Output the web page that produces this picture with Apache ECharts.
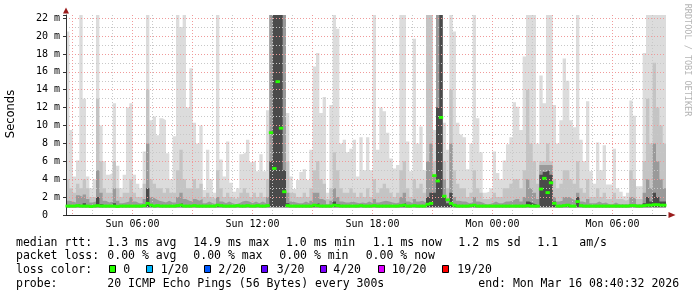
<!DOCTYPE html>
<html><head><meta charset="utf-8">
<script src="https://cdn.jsdelivr.net/npm/echarts@6/dist/echarts.min.js"></script>
<style>html,body{margin:0;padding:0;background:#fff}#c{width:697px;height:297px}</style>
</head><body><div id="c"></div>
<script>
// time: hours since Sun 00:00, bins of 10 minutes starting Sun 02:40:32
const startHour = 2 + 40 / 60 + 32 / 3600;
const stepHours = 10 / 60;
const smokeFloor = 1.0;

// top of the smoke (lightest), in ms
const smokeMax = [
 20.5, 9.5, 4.3, 6.1, 22.35, 13.0, 4.3, 3.0, 4.0, 22.35,
 10.0, 6.0, 4.5, 4.7, 12.5, 5.5, 3.0, 4.5, 12.0, 12.5,
 4.5, 3.5, 3.0, 7.1, 22.35, 10.6, 11.0, 8.9, 10.8, 10.6,
 6.9, 4.0, 8.8, 22.35, 21.0, 22.35, 12.0, 16.4, 10.3, 8.0,
 10.0, 2.8, 7.3, 4.0, 2.5, 22.35, 6.2, 4.3, 8.2, 3.6,
 2.6, 3.0, 6.8, 7.0, 8.4, 5.9, 6.1, 4.9, 6.8, 4.9,
 11.7, 22.35, 22.35, 22.35, 22.35, 22.35, 11.4, 4.3, 2.9, 3.9,
 4.8, 5.1, 3.9, 7.3, 16.6, 18.1, 11.4, 13.2, 2.5, 12.3,
 22.35, 20.8, 8.0, 8.4, 7.0, 7.4, 8.4, 4.3, 8.7, 5.0,
 8.7, 5.0, 22.35, 7.3, 12.0, 11.6, 9.2, 6.3, 5.2, 5.6,
 22.35, 22.35, 8.2, 4.9, 19.7, 8.0, 9.9, 5.0, 22.35, 22.35,
 9.5, 22.35, 22.35, 10.3, 7.3, 22.35, 20.5, 10.3, 9.0, 8.7,
 5.1, 8.0, 22.35, 10.8, 7.0, 2.5, 2.6, 3.0, 7.1, 4.7,
 4.0, 6.1, 7.9, 8.7, 12.6, 12.1, 9.5, 17.7, 22.35, 22.35,
 22.35, 8.0, 15.6, 12.5, 22.35, 22.35, 12.3, 8.0, 10.6, 17.5,
 15.0, 10.6, 9.8, 22.35, 8.4, 6.0, 12.7, 4.9, 3.5, 8.1,
 5.0, 7.8, 3.4, 3.4, 7.4, 3.0, 2.6, 2.1, 2.5, 12.8,
 11.1, 3.2, 3.2, 18.1, 22.35, 22.35, 22.35, 22.35, 22.35, 22.35
];
// top of the medium-grey smoke
const smokeMid = [
 4.0, 3.0, 2.5, 3.5, 3.0, 4.0, 3.0, 2.0, 2.0, 13.0,
 6.0, 3.0, 2.5, 2.5, 6.0, 3.0, 2.0, 2.5, 2.5, 4.0,
 2.5, 2.0, 2.0, 3.5, 14.0, 4.0, 3.5, 3.0, 3.0, 2.5,
 3.0, 2.5, 2.5, 5.0, 7.3, 4.0, 3.0, 3.0, 4.0, 3.0,
 3.5, 2.0, 2.5, 2.0, 1.8, 5.0, 3.0, 2.0, 2.5, 2.0,
 1.8, 2.0, 2.5, 3.0, 2.5, 2.0, 2.5, 2.0, 2.5, 2.0,
 4.0, 22.35, 22.35, 22.35, 22.35, 22.35, 6.0, 2.5, 2.4, 2.0,
 2.0, 2.5, 2.0, 3.0, 5.0, 6.0, 4.0, 3.5, 1.8, 3.0,
 7.0, 5.0, 3.0, 2.5, 2.5, 3.0, 2.5, 2.0, 2.5, 2.0,
 3.0, 2.0, 4.0, 2.5, 3.0, 3.5, 3.0, 2.5, 2.0, 2.5,
 5.0, 6.0, 3.0, 2.0, 4.0, 3.0, 3.5, 2.5, 22.35, 22.35,
 6.0, 22.35, 22.35, 6.0, 3.0, 14.0, 5.0, 3.5, 3.0, 3.0,
 2.0, 2.5, 5.0, 3.0, 2.5, 1.8, 1.8, 2.0, 2.5, 2.0,
 2.0, 3.0, 3.0, 3.5, 4.0, 4.0, 3.0, 5.0, 14.0, 8.0,
 6.0, 3.5, 6.0, 6.0, 8.0, 6.0, 4.0, 3.0, 3.5, 5.0,
 5.0, 4.0, 3.5, 6.0, 3.0, 2.5, 4.0, 2.0, 2.0, 3.0,
 2.0, 2.5, 1.8, 1.8, 2.5, 1.8, 1.8, 1.6, 1.8, 5.0,
 4.0, 1.8, 1.8, 6.0, 13.0, 8.0, 17.0, 12.0, 10.0, 8.0
];
// top of the dark-grey smoke
const smokeDark = [
 1.6, 1.5, 1.4, 2.2, 2.0, 2.3, 1.8, 1.4, 1.5, 5.0,
 2.5, 1.6, 1.4, 1.5, 3.0, 1.6, 1.3, 1.4, 1.5, 2.0,
 1.5, 1.3, 1.3, 1.8, 8.0, 2.0, 1.8, 1.6, 1.5, 1.4,
 1.6, 1.4, 1.4, 2.0, 2.5, 1.8, 1.6, 1.5, 1.8, 1.6,
 1.8, 1.3, 1.5, 1.3, 1.2, 2.0, 1.5, 1.3, 1.5, 1.3,
 1.2, 1.3, 1.5, 1.6, 1.5, 1.3, 1.5, 1.3, 1.5, 1.3,
 2.0, 22.35, 22.35, 22.35, 22.35, 22.35, 2.5, 1.5, 1.4, 1.3,
 1.3, 1.5, 1.3, 1.6, 2.5, 2.5, 1.8, 1.6, 1.2, 1.6,
 3.0, 2.0, 1.5, 1.4, 1.4, 1.5, 1.4, 1.3, 1.4, 1.3,
 1.5, 1.3, 1.8, 1.4, 1.5, 1.6, 1.5, 1.4, 1.3, 1.4,
 2.0, 2.5, 1.5, 1.3, 1.8, 1.5, 1.6, 1.4, 6.0, 8.0,
 4.4, 22.35, 22.35, 4.0, 1.8, 8.0, 2.0, 1.6, 1.5, 1.5,
 1.3, 1.4, 2.0, 1.5, 1.4, 1.2, 1.2, 1.3, 1.5, 1.3,
 1.3, 1.5, 1.5, 1.6, 1.8, 1.8, 1.5, 2.0, 4.0, 3.0,
 2.5, 1.8, 5.6, 5.6, 5.6, 5.6, 2.0, 1.5, 1.6, 2.0,
 2.0, 1.8, 1.6, 2.5, 1.5, 1.4, 1.8, 1.3, 1.3, 1.5,
 1.3, 1.4, 1.2, 1.2, 1.4, 1.2, 1.2, 1.2, 1.2, 2.0,
 1.8, 1.2, 1.2, 2.5, 4.0, 3.0, 8.0, 6.0, 4.0, 3.0
];
// top of the darkest smoke core
const smokeCore = [
 1.0, 1.0, 1.0, 1.2, 1.0, 1.3, 1.0, 1.0, 1.0, 2.0,
 1.2, 1.0, 1.0, 1.0, 1.3, 1.0, 1.0, 1.0, 1.0, 1.1,
 1.0, 1.0, 1.0, 1.0, 3.0, 1.1, 1.0, 1.0, 1.0, 1.0,
 1.0, 1.0, 1.0, 1.2, 1.3, 1.0, 1.0, 1.0, 1.0, 1.0,
 1.0, 1.0, 1.0, 1.0, 1.0, 1.0, 1.0, 1.0, 1.0, 1.0,
 1.0, 1.0, 1.0, 1.0, 1.0, 1.0, 1.0, 1.0, 1.0, 1.0,
 1.2, 6.0, 22.35, 22.35, 22.35, 5.0, 1.3, 1.0, 1.0, 1.0,
 1.0, 1.0, 1.0, 1.0, 1.2, 1.3, 1.0, 1.0, 1.0, 1.0,
 1.5, 1.2, 1.0, 1.0, 1.0, 1.0, 1.0, 1.0, 1.0, 1.0,
 1.0, 1.0, 1.0, 1.0, 1.0, 1.0, 1.0, 1.0, 1.0, 1.0,
 1.2, 1.3, 1.0, 1.0, 1.0, 1.0, 1.0, 1.0, 2.0, 2.5,
 2.5, 12.0, 22.35, 2.0, 1.3, 2.5, 1.2, 1.0, 1.0, 1.0,
 1.0, 1.0, 1.0, 1.0, 1.0, 1.0, 1.0, 1.0, 1.0, 1.0,
 1.0, 1.0, 1.0, 1.0, 1.0, 1.0, 1.0, 1.0, 1.5, 1.3,
 1.2, 1.0, 4.5, 4.8, 5.0, 4.5, 1.5, 1.0, 1.0, 1.2,
 1.2, 1.0, 1.0, 2.0, 1.0, 1.0, 1.0, 1.0, 1.0, 1.0,
 1.0, 1.0, 1.0, 1.0, 1.0, 1.0, 1.0, 1.0, 1.0, 1.0,
 1.0, 1.0, 1.0, 1.3, 2.0, 1.5, 2.5, 2.0, 1.5, 1.5
];
// median rtt, ms
const medianRtt = [
 1.0, 1.0, 1.0, 1.05, 1.0, 1.0, 1.0, 0.95, 1.0, 1.05,
 1.0, 1.0, 1.0, 1.0, 1.0, 0.95, 1.0, 1.0, 1.0, 1.0,
 1.0, 1.0, 1.0, 1.05, 1.3, 1.1, 1.0, 1.05, 1.0, 1.0,
 1.0, 1.0, 1.0, 1.05, 1.1, 1.0, 1.0, 1.0, 1.05, 1.0,
 1.0, 1.0, 1.0, 1.0, 1.0, 1.1, 1.05, 1.0, 1.0, 1.0,
 1.0, 1.05, 1.0, 1.0, 1.05, 1.0, 1.0, 1.05, 1.0, 1.0,
 1.05, 9.2, 5.2, 14.9, 9.7, 2.6, 1.05, 1.0, 1.0, 1.0,
 1.0, 1.0, 1.0, 1.0, 1.1, 1.05, 1.0, 1.0, 1.0, 1.0,
 1.1, 1.05, 1.0, 1.0, 1.0, 1.0, 1.0, 1.0, 1.05, 1.0,
 1.0, 1.0, 1.05, 1.0, 1.0, 1.0, 1.0, 1.0, 1.0, 1.0,
 1.05, 1.1, 1.0, 1.0, 1.05, 1.0, 1.0, 1.0, 1.2, 1.3,
 4.4, 3.8, 10.9, 2.1, 1.7, 1.3, 1.1, 1.0, 1.0, 1.0,
 1.0, 1.05, 1.1, 1.0, 1.0, 1.0, 1.0, 1.0, 1.0, 1.0,
 1.0, 1.0, 1.0, 1.0, 1.0, 1.0, 1.0, 1.0, 1.05, 1.0,
 1.0, 1.0, 2.9, 4.1, 2.5, 3.6, 1.3, 1.0, 1.0, 1.05,
 1.1, 1.0, 1.0, 1.5, 1.05, 1.0, 1.0, 1.0, 1.0, 1.0,
 1.0, 1.0, 1.0, 1.0, 1.0, 1.0, 1.0, 1.0, 1.0, 1.05,
 1.05, 1.0, 1.0, 1.05, 1.1, 1.1, 1.15, 1.15, 1.1, 1.1
];

const dayNames = ['Sun', 'Mon'];
const yUnit = 'm';
const lossLabels = ['0', '1/20', '2/20', '3/20', '4/20', '10/20', '19/20'];
const lossColors = ['#26ff00', '#00b8ff', '#0059ff', '#5e00ff', '#7e00ff', '#dd00ff', '#ff0000'];
const rttStats = ['1.3 ms avg', '14.9 ms max', '1.0 ms min', '1.1 ms now', '1.2 ms sd', '1.1', 'am/s'];
const lossStats = ['0.00 % avg', '0.00 % max', '0.00 % min', '0.00 % now'];
const probeText = '20 ICMP Echo Pings (56 Bytes) every 300s';
const endText = 'end: Mon Mar 16 08:40:32 2026';

// ---------- build ----------
const n = smokeMax.length;
const xs = Array.from({ length: n + 1 }, (_, i) => startHour + i * stepHours);
const endHour = xs[n];
function pts(arr) { const d = arr.map((v, i) => [xs[i], v]); d.push([xs[n], arr[n - 1]]); return d; }

// nested levels (each smoke shade drawn from 0 upward, darker ones on top)
const lvCore = smokeCore.map(v => Math.max(v, smokeFloor));
const lvDark = smokeDark.map((v, i) => Math.max(v, lvCore[i]));
const lvMid = smokeMid.map((v, i) => Math.max(v, lvDark[i]));
const lvMax = smokeMax.map((v, i) => Math.max(v, lvMid[i]));
const medHalf = 0.16;
const whiteFloor = smokeMax.map(() => smokeFloor - medHalf);
const medData = medianRtt.map((v, i) => [xs[i], xs[i + 1], v]);

function area(data, color) {
  return {
    type: 'line', data: pts(data), step: 'end', symbol: 'none', showSymbol: false,
    lineStyle: { width: 0, opacity: 0 }, areaStyle: { color, opacity: 1, origin: 'start' },
    silent: true, animation: false, z: 2
  };
}

const mono = '"DejaVu Sans Mono", monospace';
function txt(x, y, text, extra) {
  return Object.assign({ type: 'text', x, y, silent: true,
    style: { text, font: '11.5px ' + mono, fill: '#000', align: 'left', verticalAlign: 'middle' } }, extra || {});
}
const ly = [242.6, 256, 270.3, 283.6];
const graphics = [
  { type: 'text', x: 11, y: 114, rotation: Math.PI / 2, silent: true,
    style: { text: 'Seconds', font: '11.5px "DejaVu Sans", sans-serif', fill: '#000', align: 'center', verticalAlign: 'middle' } },
  { type: 'text', x: 687.5, y: 60, rotation: -Math.PI / 2, silent: true,
    style: { text: 'RRDTOOL / TOBI OETIKER', font: '8.5px ' + mono, fill: '#b4b4b4', align: 'center', verticalAlign: 'middle' } },
  txt(16, ly[0], 'median rtt:'),
  txt(16, ly[1], 'packet loss:'),
  txt(16, ly[2], 'loss color:'),
  txt(16, ly[3], 'probe:'),
  txt(107.3, ly[3], probeText),
  txt(478.3, ly[3], endText)
];
[107.3, 193.3, 286, 372.7, 458.3, 537.3, 579.3].forEach((x, i) => graphics.push(txt(x, ly[0], rttStats[i])));
[107.3, 193.3, 279.3, 365.7].forEach((x, i) => graphics.push(txt(x, ly[1], lossStats[i])));
const boxX = [109.5, 146.5, 204.5, 261.5, 320.5, 378.5, 442.5];
const labX = [123.3, 160.7, 218.3, 276.7, 333.3, 391.7, 457.3];
lossLabels.forEach((lab, i) => {
  graphics.push({ type: 'rect', silent: true, shape: { x: boxX[i], y: 265.5, width: 6, height: 7 },
    style: { fill: lossColors[i], stroke: '#000', lineWidth: 1 } });
  graphics.push(txt(labX[i], ly[2], lab));
});

const pad = v => (v < 10 ? '0' : '') + v;
function xLabel(v) {
  const h = Math.round(v);
  if (Math.abs(v - h) > 1e-6 || h % 6 !== 0) return '';
  return dayNames[Math.floor(h / 24)] + ' ' + pad(h % 24) + ':00';
}
const gridRed = '#f09a9a';
const gridGrey = '#c8c8c8';

const chart = echarts.init(document.getElementById('c'), null, { renderer: 'canvas' });
chart.setOption({
  animation: false,
  backgroundColor: '#ffffff',
  grid: { left: 66, right: 31, top: 15, bottom: 82, containLabel: false, outerBoundsMode: 'none' },
  xAxis: [
    { type: 'value', min: startHour, max: endHour, minInterval: 6, maxInterval: 6, z: 5,
      axisLine: { show: true, lineStyle: { color: '#222', width: 1 } },
      axisTick: { show: false }, splitLine: { show: false },
      axisLabel: { formatter: xLabel, showMinLabel: false, showMaxLabel: false, margin: 4,
        fontFamily: mono, fontSize: 10, color: '#000' } },
    { type: 'value', min: startHour, max: endHour, minInterval: 3, maxInterval: 3, z: 4,
      axisLine: { show: true, symbol: ['none', 'triangle'], symbolSize: [6, 7], symbolOffset: [0, 6],
        lineStyle: { color: '#9a1c1c', width: 0 } },
      axisTick: { show: false }, axisLabel: { show: false },
      splitLine: { show: true, showMinLine: false, showMaxLine: false, lineStyle: { color: gridRed, type: [1, 2], width: 1 } } },
    { type: 'value', min: startHour, max: endHour, minInterval: 1, maxInterval: 1, z: 3,
      axisLine: { show: false }, axisTick: { show: false }, axisLabel: { show: false },
      splitLine: { show: true, showMinLine: false, showMaxLine: false, lineStyle: { color: gridGrey, type: [1, 2], width: 1 } } }
  ],
  yAxis: [
    { type: 'value', min: 0, max: 22.35, interval: 2, z: 5,
      axisLine: { show: true, lineStyle: { color: '#333', width: 1 } },
      axisTick: { show: true, length: 3, lineStyle: { color: '#333' } },
      axisLabel: { margin: 6, fontFamily: mono, fontSize: 10, color: '#000',
        formatter: v => (Math.abs(v - Math.round(v)) > 1e-6 ? '' : (v === 0 ? '0  ' : v + ' ' + yUnit)) },
      splitLine: { show: true, showMinLine: false, showMaxLine: false, lineStyle: { color: gridRed, type: [1, 2], width: 1 } } },
    { type: 'value', min: 0, max: 22.35, interval: 1, position: 'left', z: 3,
      axisLine: { show: true, symbol: ['none', 'triangle'], symbolSize: [6, 6], symbolOffset: [0, 4.5],
        lineStyle: { color: '#9a1c1c', width: 0 } },
      axisTick: { show: false }, axisLabel: { show: false },
      splitLine: { show: true, showMinLine: false, showMaxLine: false, lineStyle: { color: gridGrey, type: [1, 2], width: 1 } } }
  ],
  series: [
    area(lvMax, '#dcdcdc'),
    area(lvMid, '#c4c4c4'),
    area(lvDark, '#9a9a9a'),
    area(lvCore, '#4a4a4a'),
    area(whiteFloor, '#ffffff'),
    {
      type: 'custom', data: medData, silent: true, animation: false, z: 6,
      encode: { x: [0, 1], y: 2 },
      renderItem: function (params, api) {
        const p0 = api.coord([api.value(0), api.value(2) + medHalf]);
        const p1 = api.coord([api.value(1), api.value(2) - medHalf]);
        return { type: 'rect', shape: { x: p0[0] - 0.5, y: p0[1], width: p1[0] - p0[0] + 1, height: p1[1] - p0[1] },
          style: { fill: lossColors[0] } };
      }
    }
  ],
  graphic: graphics
});
</script></body></html>
